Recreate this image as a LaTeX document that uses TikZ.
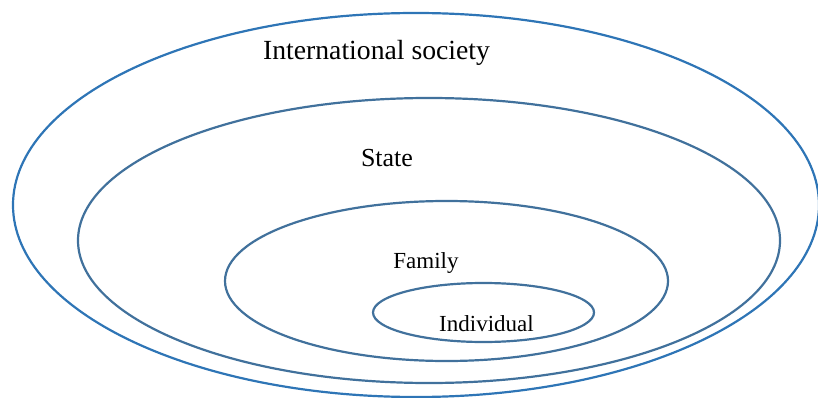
\documentclass[tikz,border=0pt]{standalone}
\usepackage{fontspec}
\setmainfont{Liberation Serif}
\begin{document}
\begin{tikzpicture}[x=1pt,y=-1pt,
  outerring/.style={draw=outerblue,line width=2.2pt},
  ring/.style={draw=ringblue,line width=2.2pt},
  toplabel/.style={anchor=base,font=\fontsize{27.7}{32}\selectfont,inner sep=0pt},
  biglabel/.style={anchor=base,font=\fontsize{26}{30}\selectfont,inner sep=0pt},
  smalllabel/.style={anchor=base,font=\fontsize{23}{27}\selectfont,inner sep=0pt}]
\definecolor{outerblue}{HTML}{2E75B6}
\definecolor{ringblue}{HTML}{41719C}
\useasboundingbox (0,0) rectangle (818,398);
% nested circles of belonging
\draw[outerring] (416,205) ellipse [x radius=403pt, y radius=192pt];
\draw[ring] (429,240.5) ellipse [x radius=351pt, y radius=142.5pt];
\draw[ring] (446.5,281) ellipse [x radius=221.5pt, y radius=80pt];
\draw[ring] (483.5,312.5) ellipse [x radius=110.5pt, y radius=29.5pt];
% labels
\node[toplabel] (intl) at (376.5,60) {International society};
\node[biglabel] (state) at (387,166.5) {State};
\node[smalllabel] (family) at (426,268) {Family};
\node[smalllabel] (indiv) at (486.5,331) {Individual};
\end{tikzpicture}
\end{document}
